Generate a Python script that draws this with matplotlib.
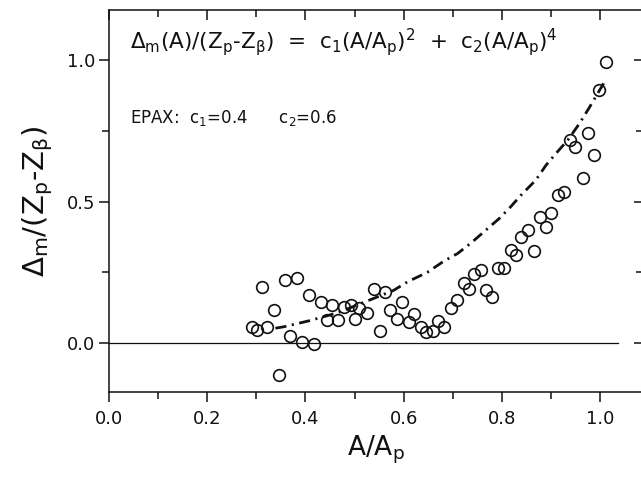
import numpy as np
import matplotlib
matplotlib.use("Agg")
import matplotlib.pyplot as plt
from matplotlib.ticker import MultipleLocator

plt.rcParams["mathtext.default"] = "regular"
plt.rcParams["lines.scale_dashes"] = False
plt.rcParams["font.family"] = ["DejaVu Sans"]

# data points
a_ratio = [0.291, 0.301, 0.312, 0.322, 0.336, 0.359, 0.383, 0.369, 0.393, 0.418,
           0.346, 0.407, 0.431, 0.455, 0.443, 0.466, 0.478, 0.492, 0.502, 0.509,
           0.526, 0.540, 0.563, 0.551, 0.573, 0.597, 0.587, 0.610, 0.622, 0.635,
           0.646, 0.659, 0.671, 0.683, 0.696, 0.708, 0.722, 0.733, 0.744, 0.757,
           0.767, 0.779, 0.793, 0.805, 0.818, 0.829, 0.839, 0.853, 0.866, 0.878,
           0.890, 0.901, 0.914, 0.927, 0.965, 0.939, 0.948, 0.975, 0.987, 0.997,
           1.012]
delta_m = [0.058, 0.046, 0.199, 0.058, 0.117, 0.223, 0.229, 0.025, 0.005, -0.004,
           -0.113, 0.170, 0.146, 0.134, 0.081, 0.081, 0.128, 0.134, 0.087, 0.123,
           0.105, 0.193, 0.181, 0.043, 0.117, 0.146, 0.087, 0.075, 0.102, 0.058,
           0.040, 0.043, 0.078, 0.057, 0.123, 0.154, 0.211, 0.193, 0.246, 0.258,
           0.187, 0.164, 0.266, 0.266, 0.329, 0.311, 0.376, 0.400, 0.326, 0.446,
           0.411, 0.460, 0.523, 0.533, 0.585, 0.717, 0.694, 0.741, 0.664, 0.896,
           0.994]

# EPAX curve
epax_x = [0.339, 0.356, 0.407, 0.465, 0.533, 0.580, 0.608, 0.648, 0.682, 0.710,
          0.740, 0.771, 0.795, 0.818, 0.839, 0.869, 0.890, 0.910, 0.934, 0.958,
          0.979, 1.009]
epax_y = [0.053, 0.058, 0.079, 0.107, 0.154, 0.187, 0.217, 0.250, 0.290, 0.317,
          0.358, 0.405, 0.441, 0.482, 0.523, 0.576, 0.629, 0.670, 0.717, 0.776,
          0.835, 0.923]

ink = "#111111"

fig = plt.figure(figsize=(6.41, 4.80), dpi=100)
ax = fig.add_axes([0.170, 0.183, 0.832, 0.796])

ax.plot(a_ratio, delta_m, "o", ms=8.4, mfc="none", mec=ink, mew=1.2, zorder=3)
ax.plot(epax_x, epax_y, color=ink, lw=2.0, dashes=(8, 4, 1.5, 4), zorder=2)
ax.plot([0, 1.037], [0, 0], color=ink, lw=0.9, zorder=1)

ax.set_xlim(0, 1.086)
ax.set_ylim(-0.173, 1.177)

for s in ax.spines.values():
    s.set_linewidth(1.1)
    s.set_color(ink)

ax.xaxis.set_major_locator(MultipleLocator(0.2))
ax.xaxis.set_minor_locator(MultipleLocator(0.1))
ax.yaxis.set_major_locator(MultipleLocator(0.5))
ax.yaxis.set_minor_locator(MultipleLocator(0.25))
ax.xaxis.set_major_formatter(lambda v, p: f"{v:.1f}")
ax.yaxis.set_major_formatter(lambda v, p: f"{v:.1f}")

ax.tick_params(which="both", direction="out", top=False, right=False,
               colors=ink, labelsize=13, width=1.1)
ax.tick_params(which="major", length=7)
ax.tick_params(which="minor", length=5)
ax.tick_params(axis="x", pad=6)
ax.tick_params(axis="y", pad=3)

top = ax.secondary_xaxis("top")
top.xaxis.set_major_locator(MultipleLocator(0.2))
top.xaxis.set_minor_locator(MultipleLocator(0.1))
top.tick_params(which="both", direction="in", labeltop=False, width=1.1, colors=ink)
top.tick_params(which="major", length=7)
top.tick_params(which="minor", length=5)
top.spines["top"].set_visible(False)

right = ax.secondary_yaxis("right")
right.yaxis.set_major_locator(MultipleLocator(0.5))
right.yaxis.set_minor_locator(MultipleLocator(0.25))
right.tick_params(which="both", direction="in", labelright=False, width=1.1, colors=ink)
right.tick_params(which="major", length=6)
right.tick_params(which="minor", length=4)
right.spines["right"].set_visible(False)

ax.set_xlabel(r"$A/A_p$", fontsize=19, color=ink, labelpad=4)
ax.set_ylabel(r"$\Delta_m$/(Z$_p$-Z$_\beta$)", fontsize=21, color=ink, labelpad=8)

ax.text(0.039, 0.916,
        r"$\Delta_m$(A)/(Z$_p$-Z$_\beta$)  =  c$_1$(A/A$_p$)$^2$  +  c$_2$(A/A$_p$)$^4$",
        transform=ax.transAxes, fontsize=15.5, color=ink, va="center", ha="left")
ax.text(0.039, 0.717, r"EPAX:  c$_1$=0.4      c$_2$=0.6",
        transform=ax.transAxes, fontsize=12, color=ink, va="center", ha="left")

fig.savefig("out.png", dpi=100, facecolor="white")
